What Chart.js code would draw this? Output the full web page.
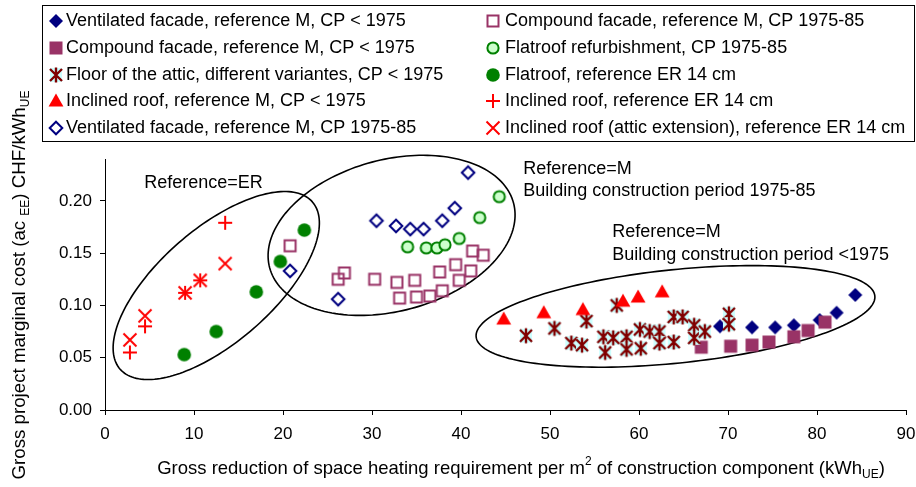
<!DOCTYPE html>
<html>
<head>
<meta charset="utf-8">
<script src="https://cdn.jsdelivr.net/npm/chart.js@4/dist/chart.umd.min.js"></script>
<style>
  html, body { margin: 0; padding: 0; background: #fff; }
  #wrap { width: 916px; height: 487px; position: relative; }
</style>
</head>
<body>
<div id="wrap"><canvas id="c" width="916" height="487"></canvas></div>
<script>
// ---- Data: gross reduction (kWh_UE per m2) vs. gross marginal cost (CHF/kWh_UE) ----
const seriesLabels = [
  'Ventilated facade, reference M, CP < 1975',
  'Compound facade, reference M, CP < 1975',
  'Floor of the attic, different variantes, CP < 1975',
  'Inclined roof, reference M, CP < 1975',
  'Ventilated facade, reference M, CP 1975-85',
  'Compound facade, reference M, CP 1975-85',
  'Flatroof refurbishment, CP 1975-85',
  'Flatroof, reference ER 14 cm',
  'Inclined roof, reference ER 14 cm',
  'Inclined roof (attic extension), reference ER 14 cm'
];

const ventM1975X = [69.1, 72.7, 75.3, 77.4, 80.3, 82.2, 84.3];
const ventM1975Y = [0.080, 0.079, 0.079, 0.081, 0.086, 0.093, 0.110];

const compM1975X = [67.0, 70.3, 72.7, 74.6, 77.4, 79.0, 80.9];
const compM1975Y = [0.060, 0.061, 0.062, 0.065, 0.070, 0.076, 0.084];

const atticFloorX = [47.3, 50.5, 52.4, 53.6, 54.1, 57.5, 56.0, 56.2, 57.1, 58.6, 58.6, 60.1,
                     60.2, 61.2, 62.3, 62.3, 63.9, 63.9, 64.9, 66.2, 66.2, 67.4, 70.1, 70.1];
const atticFloorY = [0.071, 0.078, 0.064, 0.062, 0.085, 0.100, 0.070, 0.055, 0.069, 0.070, 0.058, 0.077,
                     0.059, 0.075, 0.075, 0.064, 0.065, 0.089, 0.089, 0.081, 0.069, 0.075, 0.092, 0.082];

const inclM1975X = [44.8, 49.3, 53.7, 58.2, 59.9, 62.6];
const inclM1975Y = [0.087, 0.093, 0.096, 0.104, 0.108, 0.113];

const vent7585X = [20.8, 26.2, 30.5, 32.7, 34.3, 35.8, 37.9, 39.3, 40.8];
const vent7585Y = [0.133, 0.106, 0.181, 0.176, 0.173, 0.173, 0.181, 0.193, 0.227];

const comp7585X = [20.8, 26.2, 26.9, 30.3, 32.8, 34.8, 33.1, 35.0, 36.5, 37.9, 37.6, 39.4, 41.1, 39.8, 41.3, 42.5];
const comp7585Y = [0.157, 0.125, 0.131, 0.125, 0.122, 0.124, 0.107, 0.108, 0.109, 0.114, 0.132, 0.139, 0.133, 0.124, 0.152, 0.148];

const flatRefX = [34.0, 36.1, 37.3, 38.2, 39.8, 42.1, 44.3];
const flatRefY = [0.156, 0.155, 0.155, 0.158, 0.164, 0.184, 0.204];

const flatERX = [8.9, 12.5, 17.0, 19.7, 22.4];
const flatERY = [0.053, 0.075, 0.113, 0.142, 0.172];

const inclERX = [2.8, 4.5, 9.0, 10.7, 13.5];
const inclERY = [0.055, 0.080, 0.112, 0.124, 0.179];

const atticExtX = [2.8, 4.5, 9.0, 10.7, 13.5];
const atticExtY = [0.067, 0.090, 0.112, 0.124, 0.140];

const xTickValues = [0, 10, 20, 30, 40, 50, 60, 70, 80, 90];
const yTickValues = [0, 0.05, 0.10, 0.15, 0.20];

// Group outlines: centre, end of one semi-axis, end of the conjugate semi-axis (data units)
const groupEllipses = [
  { c: [12.5, 0.119], a: [23.3, 0.199], b: [16.7, 0.078] },
  { c: [32.2, 0.167], a: [45.9, 0.198], b: [34.4, 0.097] },
  { c: [64.1, 0.0895], a: [86.5, 0.109], b: [64.6, 0.045] }
];

// Group captions (left edge, vertical middle, in data units)
const groupNotes = [
  { text: 'Reference=ER', x: 4.4, y: 0.2168 },
  { text: 'Reference=M', x: 47.0, y: 0.2304 },
  { text: 'Building construction period 1975-85', x: 47.0, y: 0.2097 },
  { text: 'Reference=M', x: 57.0, y: 0.1705 },
  { text: 'Building construction period <1975', x: 57.0, y: 0.1482 }
];

// ---- Styling ----
const FONT = '"Liberation Sans", Arial, Helvetica, sans-serif';
const NAVY = '#000080', PURPLE = '#993366', DARKRED = '#800000', RED = '#ff0000', GREEN = '#008000';

function makeMarker(kind) {
  const S = 18;
  const cv = document.createElement('canvas');
  cv.width = S; cv.height = S;
  const g = cv.getContext('2d');
  g.translate(S / 2, S / 2);
  g.lineCap = 'butt';
  const line = (x1, y1, x2, y2) => { g.moveTo(x1, y1); g.lineTo(x2, y2); };
  switch (kind) {
    case 'diamondFilled':
      g.fillStyle = NAVY; g.beginPath();
      g.moveTo(0, -7); g.lineTo(7, 0); g.lineTo(0, 7); g.lineTo(-7, 0); g.closePath(); g.fill();
      break;
    case 'squareFilled':
      g.fillStyle = PURPLE; g.fillRect(-6.5, -6.5, 13, 13);
      break;
    case 'asterisk':
      g.fillStyle = '#ccffff'; g.fillRect(-6, -7, 12, 14);
      g.strokeStyle = DARKRED; g.lineWidth = 2.4; g.beginPath();
      line(0, -7.5, 0, 7.5); line(-6, -6, 6, 6); line(6, -6, -6, 6);
      g.stroke();
      break;
    case 'triangle':
      g.fillStyle = RED; g.beginPath();
      g.moveTo(0, -7.5); g.lineTo(7.4, 5.5); g.lineTo(-7.4, 5.5); g.closePath(); g.fill();
      break;
    case 'diamondOpen':
      g.strokeStyle = NAVY; g.lineWidth = 2; g.beginPath();
      g.moveTo(0, -6.3); g.lineTo(6.3, 0); g.lineTo(0, 6.3); g.lineTo(-6.3, 0); g.closePath(); g.stroke();
      break;
    case 'squareOpen':
      g.strokeStyle = PURPLE; g.lineWidth = 2; g.strokeRect(-5.5, -5.5, 11, 11);
      break;
    case 'circleOpen':
      g.fillStyle = '#ccffcc'; g.strokeStyle = GREEN; g.lineWidth = 2; g.beginPath();
      g.arc(0, 0, 5.6, 0, Math.PI * 2); g.fill(); g.stroke();
      break;
    case 'circleFilled':
      g.fillStyle = GREEN; g.beginPath(); g.arc(0, 0, 6.8, 0, Math.PI * 2); g.fill();
      break;
    case 'plus':
      g.strokeStyle = RED; g.lineWidth = 2; g.beginPath();
      line(-7, 0, 7, 0); line(0, -7, 0, 7); g.stroke();
      break;
    case 'cross':
      g.strokeStyle = RED; g.lineWidth = 2; g.beginPath();
      line(-6.5, -6.5, 6.5, 6.5); line(6.5, -6.5, -6.5, 6.5); g.stroke();
      break;
  }
  return cv;
}

const seriesDefs = [
  { xs: ventM1975X, ys: ventM1975Y, marker: 'diamondFilled' },
  { xs: compM1975X, ys: compM1975Y, marker: 'squareFilled' },
  { xs: atticFloorX, ys: atticFloorY, marker: 'asterisk' },
  { xs: inclM1975X, ys: inclM1975Y, marker: 'triangle' },
  { xs: vent7585X, ys: vent7585Y, marker: 'diamondOpen' },
  { xs: comp7585X, ys: comp7585Y, marker: 'squareOpen' },
  { xs: flatRefX, ys: flatRefY, marker: 'circleOpen' },
  { xs: flatERX, ys: flatERY, marker: 'circleFilled' },
  { xs: inclERX, ys: inclERY, marker: 'plus' },
  { xs: atticExtX, ys: atticExtY, marker: 'cross' }
];

const datasets = seriesDefs.map((s, i) => ({
  label: seriesLabels[i],
  data: s.xs.map((x, k) => ({ x: x, y: s.ys[k] })),
  pointStyle: makeMarker(s.marker),
  pointRadius: 7,
  pointHoverRadius: 7,
  showLine: false,
  order: seriesDefs.length - i   // later series are painted on top
}));

// Text with sub/superscript pieces: parts = [[text, mode]] mode 0 normal, 1 sub, 2 sup
function drawRich(ctx, parts, x, y, size, align) {
  const big = size + 'px ' + FONT;
  const small = Math.round(size * 0.66) + 'px ' + FONT;
  let total = 0;
  parts.forEach(p => { ctx.font = p[1] ? small : big; total += ctx.measureText(p[0]).width; });
  let cx = align === 'center' ? x - total / 2 : x;
  ctx.textAlign = 'left';
  ctx.textBaseline = 'middle';
  parts.forEach(p => {
    ctx.font = p[1] ? small : big;
    const dy = p[1] === 1 ? size * 0.32 : (p[1] === 2 ? -size * 0.38 : 0);
    ctx.fillText(p[0], cx, y + dy);
    cx += ctx.measureText(p[0]).width;
  });
}

const ellipsePlugin = {
  id: 'groupEllipses',
  beforeDatasetsDraw(chart) {
    const { ctx, scales: { x: sx, y: sy } } = chart;
    ctx.save();
    ctx.strokeStyle = '#000';
    ctx.lineWidth = 1.6;
    groupEllipses.forEach(e => {
      const cx = sx.getPixelForValue(e.c[0]), cy = sy.getPixelForValue(e.c[1]);
      const ax = sx.getPixelForValue(e.a[0]) - cx, ay = sy.getPixelForValue(e.a[1]) - cy;
      const bx = sx.getPixelForValue(e.b[0]) - cx, by = sy.getPixelForValue(e.b[1]) - cy;
      ctx.beginPath();
      const N = 180;
      for (let k = 0; k <= N; k++) {
        const t = (k / N) * Math.PI * 2;
        const px = cx + ax * Math.cos(t) + bx * Math.sin(t);
        const py = cy + ay * Math.cos(t) + by * Math.sin(t);
        if (k === 0) ctx.moveTo(px, py); else ctx.lineTo(px, py);
      }
      ctx.closePath();
      ctx.stroke();
    });
    ctx.restore();
  },
  afterDatasetsDraw(chart) {
    const { ctx, scales: { x: sx, y: sy } } = chart;
    ctx.save();
    ctx.fillStyle = '#000';
    ctx.font = '18px ' + FONT;
    ctx.textAlign = 'left';
    ctx.textBaseline = 'middle';
    groupNotes.forEach(n => ctx.fillText(n.text, sx.getPixelForValue(n.x), sy.getPixelForValue(n.y)));
    ctx.restore();
  }
};

const titlesPlugin = {
  id: 'axisTitles',
  afterDraw(chart) {
    const ctx = chart.ctx;
    ctx.save();
    ctx.fillStyle = '#000';
    drawRich(ctx, [['Gross reduction of space heating requirement per m', 0], ['2', 2],
                   [' of construction component (kWh', 0], ['UE', 1], [')', 0]], 521, 469, 18.5, 'center');
    ctx.translate(20, 285);
    ctx.rotate(-Math.PI / 2);
    drawRich(ctx, [['Gross project marginal cost (ac ', 0], ['EE', 1], [') CHF/kWh', 0], ['UE', 1]], 0, 0, 18.7, 'center');
    ctx.restore();
  }
};

const legendPlugin = {
  id: 'boxLegend',
  afterDraw(chart) {
    const ctx = chart.ctx;
    ctx.save();
    ctx.fillStyle = '#fff';
    ctx.fillRect(42.5, 5.5, 872, 136);
    ctx.strokeStyle = '#000';
    ctx.lineWidth = 1;
    ctx.strokeRect(42.5, 5.5, 872, 136);
    ctx.font = '18px ' + FONT;
    ctx.textAlign = 'left';
    ctx.textBaseline = 'middle';
    chart.data.datasets.forEach((ds, i) => {
      const col = i < 5 ? 0 : 1;
      const row = i % 5;
      const my = 21 + row * 26.8;
      const mx = col ? 493 : 56;
      const img = ds.pointStyle;
      ctx.drawImage(img, Math.round(mx - img.width / 2), Math.round(my - img.height / 2));
      ctx.fillStyle = '#000';
      ctx.fillText(ds.label, col ? 505 : 66, my);
    });
    ctx.restore();
  }
};

const tickFont = { family: FONT, size: 17 };

new Chart(document.getElementById('c'), {
  type: 'scatter',
  data: { datasets },
  options: {
    responsive: false,
    animation: false,
    devicePixelRatio: 1,
    layout: { padding: { top: 159, right: 10, left: 0, bottom: 0 } },
    plugins: { legend: { display: false }, tooltip: { enabled: false } },
    scales: {
      x: {
        type: 'linear', min: 0, max: 90,
        afterBuildTicks: s => { s.ticks = xTickValues.map(v => ({ value: v })); },
        afterFit: s => { s.height = 77; s.paddingLeft = 0; s.paddingRight = 0; },
        ticks: { font: tickFont, color: '#000', padding: 9, maxRotation: 0, autoSkip: false,
                 callback: v => String(v) },
        grid: { display: true, drawOnChartArea: false, drawTicks: true, tickLength: 5, color: '#000', lineWidth: 1 },
        border: { display: true, color: '#000', width: 1 },
        title: { display: false }
      },
      y: {
        type: 'linear', min: 0, max: 0.24,
        afterBuildTicks: s => { s.ticks = yTickValues.map(v => ({ value: v })); },
        afterFit: s => { s.width = 105; s.paddingTop = 0; s.paddingBottom = 0; },
        ticks: { font: tickFont, color: '#000', padding: 8, autoSkip: false,
                 callback: v => Number(v).toFixed(2) },
        grid: { display: true, drawOnChartArea: false, drawTicks: true, tickLength: 5, color: '#000', lineWidth: 1 },
        border: { display: true, color: '#000', width: 1 },
        title: { display: false }
      }
    }
  },
  plugins: [ellipsePlugin, titlesPlugin, legendPlugin]
});
</script>
</body>
</html>
